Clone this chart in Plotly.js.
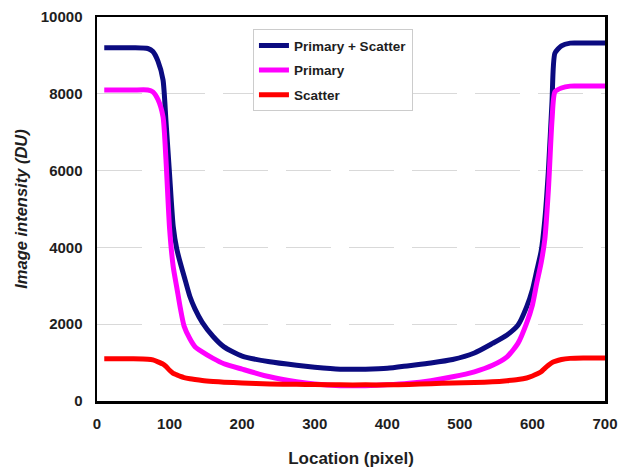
<!DOCTYPE html>
<html>
<head>
<meta charset="utf-8">
<script src="https://cdn.plot.ly/plotly-3.0.1.min.js"></script>
<style>html,body{margin:0;padding:0;background:#fff;}#chart{width:621px;height:475px;}</style>
</head>
<body>
<div id="chart"></div>
<script>
const location_px = [10, 30, 50, 70, 77, 84, 91, 95, 100, 105, 110, 115, 120, 128, 135, 145, 160, 175, 200, 238, 275, 300, 335, 370, 400, 430, 460, 490, 520, 545, 565, 580, 592, 600, 606, 612, 617, 622, 627, 631, 640, 652, 670, 700];
const primaryScatter = [9200, 9200, 9200, 9180, 9100, 8850, 8360, 7300, 5900, 4550, 3950, 3580, 3250, 2720, 2400, 2050, 1680, 1410, 1170, 1020, 930, 880, 830, 830, 850, 920, 990, 1080, 1250, 1500, 1720, 1970, 2450, 2900, 3400, 3900, 4710, 6000, 7800, 9060, 9250, 9320, 9320, 9320];
const primary = [8100, 8100, 8100, 8100, 8050, 7850, 7400, 6300, 4500, 3500, 2950, 2400, 1950, 1620, 1415, 1280, 1110, 970, 830, 630, 500, 440, 400, 400, 420, 460, 530, 630, 760, 930, 1150, 1500, 2030, 2500, 3070, 3600, 4200, 5500, 7320, 8050, 8150, 8200, 8200, 8200];
const scatter = [1100, 1100, 1100, 1090, 1070, 1020, 960, 900, 800, 720, 680, 640, 610, 580, 560, 535, 510, 490, 470, 445, 435, 430, 420, 420, 420, 430, 450, 470, 480, 500, 530, 560, 600, 650, 700, 760, 850, 930, 1000, 1030, 1080, 1110, 1120, 1120];
const seriesNames = ["Primary + Scatter", "Primary", "Scatter"];
const xTicks = [0, 100, 200, 300, 400, 500, 600, 700];
const yTicks = [0, 2000, 4000, 6000, 8000, 10000];

const font = "Liberation Sans, Arial, sans-serif";
const traces = [
  {x: location_px, y: primaryScatter, name: seriesNames[0], line: {color: "#0b0b80", width: 5, shape: "spline", smoothing: 0.6}},
  {x: location_px, y: primary, name: seriesNames[1], line: {color: "#ff00ff", width: 5, shape: "spline", smoothing: 0.6}},
  {x: location_px, y: scatter, name: seriesNames[2], line: {color: "#ff0000", width: 5, shape: "spline", smoothing: 0.6}}
].map((t, i) => Object.assign({type: "scatter", mode: "lines", legendgroup: "g" + i}, t));

const layout = {
  width: 621, height: 475,
  margin: {l: 97, r: 16, t: 17, b: 74},
  paper_bgcolor: "#fff", plot_bgcolor: "#fff",
  font: {family: font, color: "#1e1e1e", size: 13},
  showlegend: true,
  legend: {
    x: 0.307, y: 0.968, xanchor: "left", yanchor: "top",
    bgcolor: "#fff", bordercolor: "#cccccc", borderwidth: 1,
    font: {family: font, size: 13.5, color: "#1e1e1e", weight: "bold"},
    traceorder: "grouped", tracegroupgap: 4
  },
  xaxis: {
    range: [0, 700], tickvals: xTicks, ticktext: xTicks.map(String),
    showline: true, linecolor: "#000", linewidth: 2.5, mirror: true,
    showgrid: false, zeroline: false, ticks: "", ticklabelstandoff: 7,
    tickfont: {family: font, size: 15, color: "#1e1e1e", weight: "bold"},
    title: {text: "Location (pixel)", font: {family: font, size: 17, color: "#1e1e1e", weight: "bold"}, standoff: 22}
  },
  yaxis: {
    range: [0, 10000], tickvals: yTicks, ticktext: yTicks.map(String),
    showline: true, linecolor: "#000", linewidth: 2.5, mirror: true,
    showgrid: true, gridcolor: "#d9d9d9", gridwidth: 1, griddash: "45px,18px",
    zeroline: false, ticks: "", ticklabelstandoff: 9,
    tickfont: {family: font, size: 15, color: "#1e1e1e", weight: "bold"},
    title: {text: "Image intensity (DU)", font: {family: font, size: 16.5, color: "#1e1e1e", weight: "bold", style: "italic"}, standoff: 9}
  }
};
Plotly.newPlot("chart", traces, layout, {displayModeBar: false, staticPlot: true});
</script>
</body>
</html>
